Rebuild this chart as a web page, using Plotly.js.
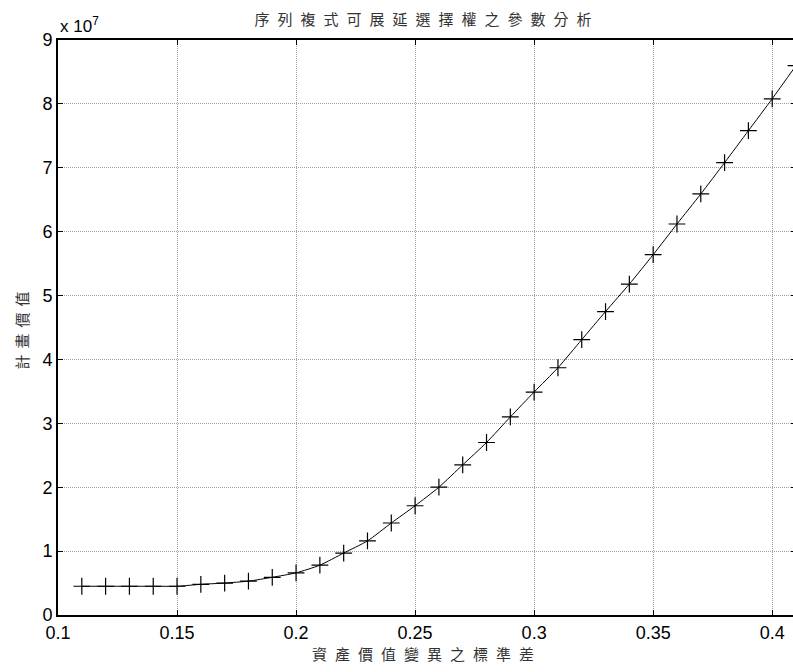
<!DOCTYPE html>
<html>
<head>
<meta charset="utf-8">
<script src="https://cdn.plot.ly/plotly-3.0.1.min.js"></script>
<style>
html, body { margin: 0; padding: 0; overflow: hidden; background: #fff; }
#chart { width: 800px; height: 672px; }
.gtitle { letter-spacing: 8px; }
.xtitle { letter-spacing: 8px; }
.ytitle { letter-spacing: 6px; }
</style>
</head>
<body>
<div id="chart"></div>
<script>
// Data
const sigma = [0.11, 0.12, 0.13, 0.14, 0.15, 0.16, 0.17, 0.18, 0.19, 0.20,
               0.21, 0.22, 0.23, 0.24, 0.25, 0.26, 0.27, 0.28, 0.29, 0.30,
               0.31, 0.32, 0.33, 0.34, 0.35, 0.36, 0.37, 0.38, 0.39, 0.40, 0.41];
const projectValue = [4.5e6, 4.5e6, 4.5e6, 4.5e6, 4.5e6, 4.8e6, 5.0e6, 5.3e6, 5.9e6, 6.6e6,
                      7.8e6, 9.7e6, 11.6e6, 14.4e6, 17.1e6, 20.0e6, 23.5e6, 27.0e6, 31.0e6, 34.9e6,
                      38.7e6, 43.1e6, 47.5e6, 51.8e6, 56.4e6, 61.2e6, 65.9e6, 70.8e6, 75.8e6, 80.8e6, 86.0e6];
const xTickVals = [0.1, 0.15, 0.2, 0.25, 0.3, 0.35, 0.4];
const xTickText = ['0.1', '0.15', '0.2', '0.25', '0.3', '0.35', '0.4'];
const yTickVals = [0, 1e7, 2e7, 3e7, 4e7, 5e7, 6e7, 7e7, 8e7, 9e7];
const yTickText = ['0', '1', '2', '3', '4', '5', '6', '7', '8', '9'];

const chartTitle = '序列複式可展延選擇權之參數分析';
const xTitle = '資產價值變異之標準差';
const yTitle = '計畫價值';

const cjk = '"Noto Sans CJK TC", "Noto Sans CJK SC", sans-serif';
const latin = '"Liberation Sans", Arial, sans-serif';

const trace = {
  x: sigma,
  y: projectValue,
  type: 'scatter',
  mode: 'lines+markers',
  line: { color: '#000', width: 1, shape: 'spline', smoothing: 0.6 },
  marker: { symbol: 'cross-thin-open', size: 12, color: '#000', line: { color: '#000', width: 1.2 } },
  cliponaxis: true,
  hoverinfo: 'skip'
};

const axisCommon = {
  showline: true, linecolor: '#000', linewidth: 2,
  ticks: 'inside', ticklen: 5, tickcolor: '#000', tickwidth: 1,
  showgrid: true, gridcolor: '#a0a0a0', gridwidth: 1, griddash: '1px,1px',
  zeroline: false,
  tickfont: { family: latin, size: 18, color: '#000' }
};

const layout = {
  width: 800, height: 672,
  margin: { l: 58, r: 4, t: 40, b: 57 },
  paper_bgcolor: '#fff', plot_bgcolor: '#fff',
  showlegend: false,
  title: {
    text: chartTitle,
    font: { family: cjk, size: 15, color: '#333' },
    x: 0.5, xref: 'paper', xanchor: 'center',
    y: 0.97, yref: 'container', yanchor: 'middle'
  },
  xaxis: Object.assign({}, axisCommon, {
    range: [0.1, 0.41],
    tickvals: xTickVals, ticktext: xTickText,
    mirror: 'ticks',
    title: { text: xTitle, font: { family: cjk, size: 15, color: '#333' }, standoff: 4 }
  }),
  yaxis: Object.assign({}, axisCommon, {
    range: [0, 9e7],
    tickvals: yTickVals, ticktext: yTickText,
    mirror: 'ticks',
    title: { text: yTitle, font: { family: cjk, size: 15, color: '#333' }, standoff: 10 }
  }),
  annotations: [{
    text: 'x 10<sup>7</sup>',
    xref: 'paper', yref: 'paper', x: 0, y: 1,
    xanchor: 'left', yanchor: 'bottom', yshift: 2,
    showarrow: false,
    font: { family: latin, size: 17, color: '#000' }
  }]
};

Plotly.newPlot('chart', [trace], layout, { displayModeBar: false, staticPlot: true });
</script>
</body>
</html>
